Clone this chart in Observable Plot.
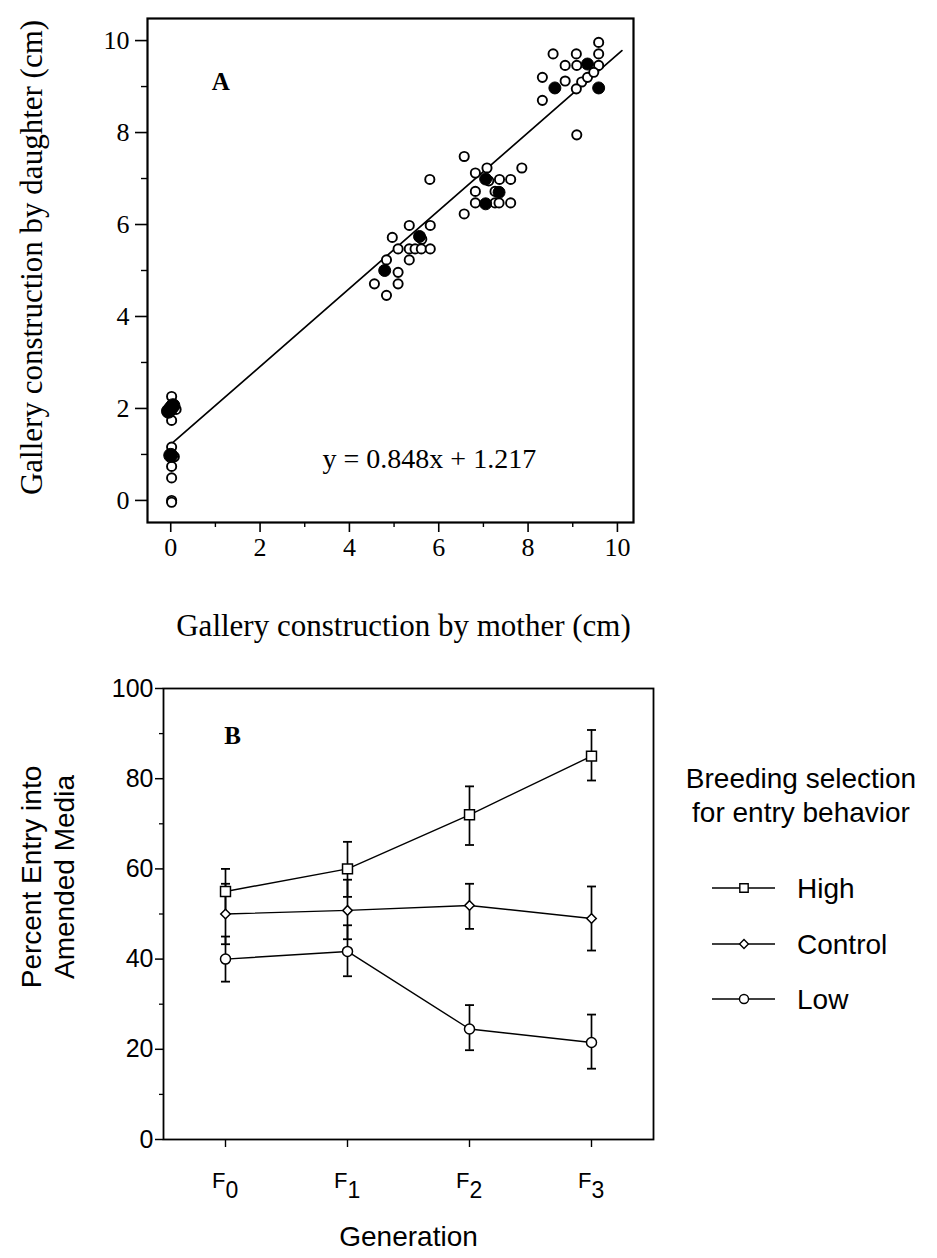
<!DOCTYPE html>
<html><head><meta charset="utf-8">
<script src="https://cdn.jsdelivr.net/npm/d3@7"></script>
<script src="https://cdn.jsdelivr.net/npm/@observablehq/plot@0.6"></script>
<style>
body{margin:0;background:#fff;}
#wrap{position:relative;width:937px;height:1258px;overflow:hidden;background:#fff;}
#wrap > svg{display:block;}
</style></head><body><div id="wrap"></div>
<script>
// ---------- Panel A data ----------
const openMother = [6.57,5.80,7.86,7.08,6.82,7.36,7.61,6.82,7.26,6.82,7.26,7.35,7.61,6.57,5.34,5.81,4.96,5.09,5.34,5.47,5.61,5.81,4.83,5.34,5.09,4.56,5.09,4.83,5.62,7.12,
  9.58,8.56,9.08,9.58,8.83,9.09,9.58,8.32,8.83,9.20,9.33,9.47,9.08,8.32,9.09,
  0.02,0.02,0.12,0.02,0.08,0.02,0.02,0.02,0.02];
const openDaughter = [7.48,6.98,7.23,7.23,7.12,6.98,6.98,6.72,6.72,6.47,6.47,6.47,6.47,6.23,5.98,5.98,5.72,5.47,5.47,5.47,5.47,5.47,5.23,5.23,4.96,4.71,4.71,4.46,5.68,6.95,
  9.96,9.71,9.71,9.71,9.46,9.46,9.46,9.20,9.12,9.10,9.20,9.31,8.95,8.70,7.95,
  2.26,1.74,1.98,1.16,0.95,0.74,0.49,0.00,-0.04];
const filledMother = [7.05,7.35,7.05,5.57,4.79,9.33,8.60,9.58,0.00,-0.05,0.05,0.00];
const filledDaughter = [6.99,6.70,6.45,5.74,5.00,9.49,8.97,8.97,2.00,1.94,2.06,0.98];
const fitSlope = 0.848, fitIntercept = 1.217;
const fitRange = [0, 10.1];
const aTicks = [0,2,4,6,8,10];
const aMinor = [1,3,5,7,9];

// ---------- Panel B data ----------
const generations = ["F0","F1","F2","F3"];
const series = ["High","Control","Low"];
const highMean  = [55, 60, 72, 85];
const highUpper = [60, 66, 78.3, 90.8];
const highLower = [50, 53.8, 65.3, 79.6];
const controlMean  = [50, 50.8, 51.9, 49];
const controlUpper = [56.7, 57.6, 56.7, 56.1];
const controlLower = [43.3, 44.4, 46.7, 41.9];
const lowMean  = [40, 41.7, 24.5, 21.5];
const lowUpper = [45, 47.5, 29.8, 27.7];
const lowLower = [35, 36.2, 19.8, 15.7];
const bTicks = [0,20,40,60,80,100];
const bMinor = [10,30,50,70,90];

const serif = "'Liberation Serif','Times New Roman',serif";
const sans = "'Liberation Sans',Arial,sans-serif";
const wrap = document.getElementById("wrap");

// ---------- Panel A ----------
const openPts = openMother.map((x,i)=>({x, y: openDaughter[i]}));
const filledPts = filledMother.map((x,i)=>({x, y: filledDaughter[i], big: Math.abs(x) < 0.1}));

const plotA = Plot.plot({
  width: 937, height: 640,
  marginLeft: 147, marginRight: 304, marginTop: 18, marginBottom: 118,
  x: {domain: [-0.52, 10.36]},
  y: {domain: [-0.48, 10.48]},
  style: {fontFamily: serif, fontSize: "26px", background: "white", color: "black", overflow: "visible"},
  marks: [
    Plot.axisX({ticks: aTicks, tickSize: 10, tickPadding: 5, label: null, fontSize: 26, strokeWidth: 1.6}),
    Plot.axisX({ticks: aMinor, tickSize: 5, text: null, label: null, strokeWidth: 1.4}),
    Plot.axisY({ticks: aTicks, tickSize: 12, tickPadding: 6, label: null, fontSize: 26, strokeWidth: 1.6}),
    Plot.axisY({ticks: aMinor, tickSize: 6, text: null, label: null, strokeWidth: 1.4}),
    Plot.line(fitRange, {x: d=>d, y: d=>fitSlope*d + fitIntercept, stroke: "black", strokeWidth: 1.7}),
    Plot.dot(openPts, {x: "x", y: "y", r: 4.6, fill: "white", stroke: "black", strokeWidth: 1.9}),
    Plot.dot(filledPts, {filter: d => !d.big, x: "x", y: "y", r: 6, fill: "black", stroke: "black", strokeWidth: 1}),
    Plot.dot(filledPts, {filter: d => d.big, x: "x", y: "y", r: 7, fill: "black", stroke: "black", strokeWidth: 1}),
    Plot.frame({stroke: "black", strokeWidth: 2.2}),
    Plot.text(["A"], {x: 1.12, y: 9.09, fontFamily: serif, fontWeight: "bold", fontSize: 25, textAnchor: "middle", lineAnchor: "middle"}),
    Plot.text([`y = ${fitSlope}x + ${fitIntercept}`], {x: 5.79, y: 0.89, fontFamily: serif, fontSize: 28, textAnchor: "middle", lineAnchor: "middle"}),
    Plot.text(["Gallery construction by mother (cm)"], {frameAnchor: "bottom", dx: 13, dy: 113, lineAnchor: "bottom", textAnchor: "middle", fontFamily: serif, fontSize: 31}),
    Plot.text(["Gallery construction by daughter (cm)"], {frameAnchor: "left", rotate: -90, dx: -106, dy: -13, lineAnchor: "bottom", textAnchor: "middle", fontFamily: serif, fontSize: 31})
  ]
});
wrap.appendChild(plotA);

// ---------- Panel B ----------
const means = [highMean, controlMean, lowMean];
const uppers = [highUpper, controlUpper, lowUpper];
const lowers = [highLower, controlLower, lowLower];
const rows = [];
series.forEach((s, si) => generations.forEach((g, gi) => rows.push({series: s, gen: g, mean: means[si][gi], upper: uppers[si][gi], lower: lowers[si][gi]})));

const capSymbol = {draw(ctx, size) { ctx.moveTo(-4.5, 0); ctx.lineTo(4.5, 0); }};

const plotB = Plot.plot({
  width: 937, height: 618,
  marginLeft: 163, marginRight: 284, marginTop: 48, marginBottom: 119,
  x: {type: "point", domain: generations, padding: 0.5},
  y: {domain: [0, 100]},
  style: {fontFamily: sans, fontSize: "25px", background: "white", color: "black", overflow: "visible"},
  marks: [
    Plot.axisX({tickSize: 8, text: null, label: null, strokeWidth: 1.4}),
    Plot.axisY({ticks: bTicks, tickSize: 8, tickPadding: 2, label: null, fontSize: 25, strokeWidth: 1.5}),
    Plot.axisY({ticks: bMinor, tickSize: 4, text: null, label: null, strokeWidth: 1.3}),
    Plot.ruleX(rows, {x: "gen", y1: "lower", y2: "upper", stroke: "black", strokeWidth: 1.7}),
    Plot.dot(rows, {x: "gen", y: "upper", symbol: capSymbol, stroke: "black", strokeWidth: 1.8, fill: "none"}),
    Plot.dot(rows, {x: "gen", y: "lower", symbol: capSymbol, stroke: "black", strokeWidth: 1.8, fill: "none"}),
    Plot.line(rows, {x: "gen", y: "mean", z: "series", stroke: "black", strokeWidth: 1.4}),
    Plot.dot(rows, {filter: d => d.series === "High", x: "gen", y: "mean", symbol: "square", r: 5.6, fill: "white", stroke: "black", strokeWidth: 1.5}),
    Plot.dot(rows, {filter: d => d.series === "Control", x: "gen", y: "mean", symbol: "diamond2", r: 4.3, fill: "white", stroke: "black", strokeWidth: 1.5}),
    Plot.dot(rows, {filter: d => d.series === "Low", x: "gen", y: "mean", symbol: "circle", r: 5, fill: "white", stroke: "black", strokeWidth: 1.5}),
    Plot.frame({stroke: "black", strokeWidth: 1.8}),
    Plot.ruleX([0], {x: 0, y1: 0, y2: 100, stroke: "none"}),
    Plot.text(["B"], {x: () => generations[0], y: 89.5, dx: 7, fontFamily: serif, fontWeight: "bold", fontSize: 25, textAnchor: "middle", lineAnchor: "middle"}),
    Plot.text(generations, {x: d => d, text: () => "F", frameAnchor: "bottom", dy: 48, lineAnchor: "bottom", textAnchor: "end", fontFamily: sans, fontSize: 22}),
    Plot.text(generations, {x: d => d, text: d => d.slice(1), frameAnchor: "bottom", dy: 58, lineAnchor: "bottom", textAnchor: "start", fontFamily: sans, fontSize: 23}),
    Plot.text(["Generation"], {frameAnchor: "bottom", dy: 106, lineAnchor: "bottom", textAnchor: "middle", fontFamily: sans, fontSize: 28}),
    Plot.text(["Percent Entry into"], {frameAnchor: "left", rotate: -90, dx: -123, dy: -37, lineAnchor: "bottom", textAnchor: "middle", fontFamily: sans, fontSize: 28}),
    Plot.text(["Amended Media"], {frameAnchor: "left", rotate: -90, dx: -90, dy: -37, lineAnchor: "bottom", textAnchor: "middle", fontFamily: sans, fontSize: 28})
  ]
});
wrap.appendChild(plotB);

// ---------- Legend (Panel B) ----------
const legendTitle = ["Breeding selection", "for entry behavior"];
const legendSymbols = [d3.symbolSquare, d3.symbolDiamond2, d3.symbolCircle];
const legendSizes = [70, 50, 64];
const lg = d3.create("svg").attr("width", 937).attr("height", 1258)
  .style("position", "absolute").style("left", "0px").style("top", "0px").style("overflow", "visible");
lg.selectAll("text.t").data(legendTitle).join("text").attr("class", "t")
  .attr("x", 801).attr("y", (d, i) => 788 + i * 34)
  .attr("text-anchor", "middle").attr("font-family", sans).attr("font-size", 28).text(d => d);
const items = lg.selectAll("g.item").data(series).join("g").attr("class", "item")
  .attr("transform", (d, i) => `translate(0,${[888, 944, 999][i]})`);
items.append("line").attr("x1", 712).attr("x2", 775).attr("y1", 0).attr("y2", 0).attr("stroke", "black").attr("stroke-width", 1.4);
items.append("path").attr("transform", "translate(744,0)")
  .attr("d", (d, i) => d3.symbol(legendSymbols[i], legendSizes[i])())
  .attr("fill", "white").attr("stroke", "black").attr("stroke-width", 1.4);
items.append("text").attr("x", 797).attr("y", 10).attr("font-family", sans).attr("font-size", 28).text(d => d);
wrap.appendChild(lg.node());
</script>
</body></html>
